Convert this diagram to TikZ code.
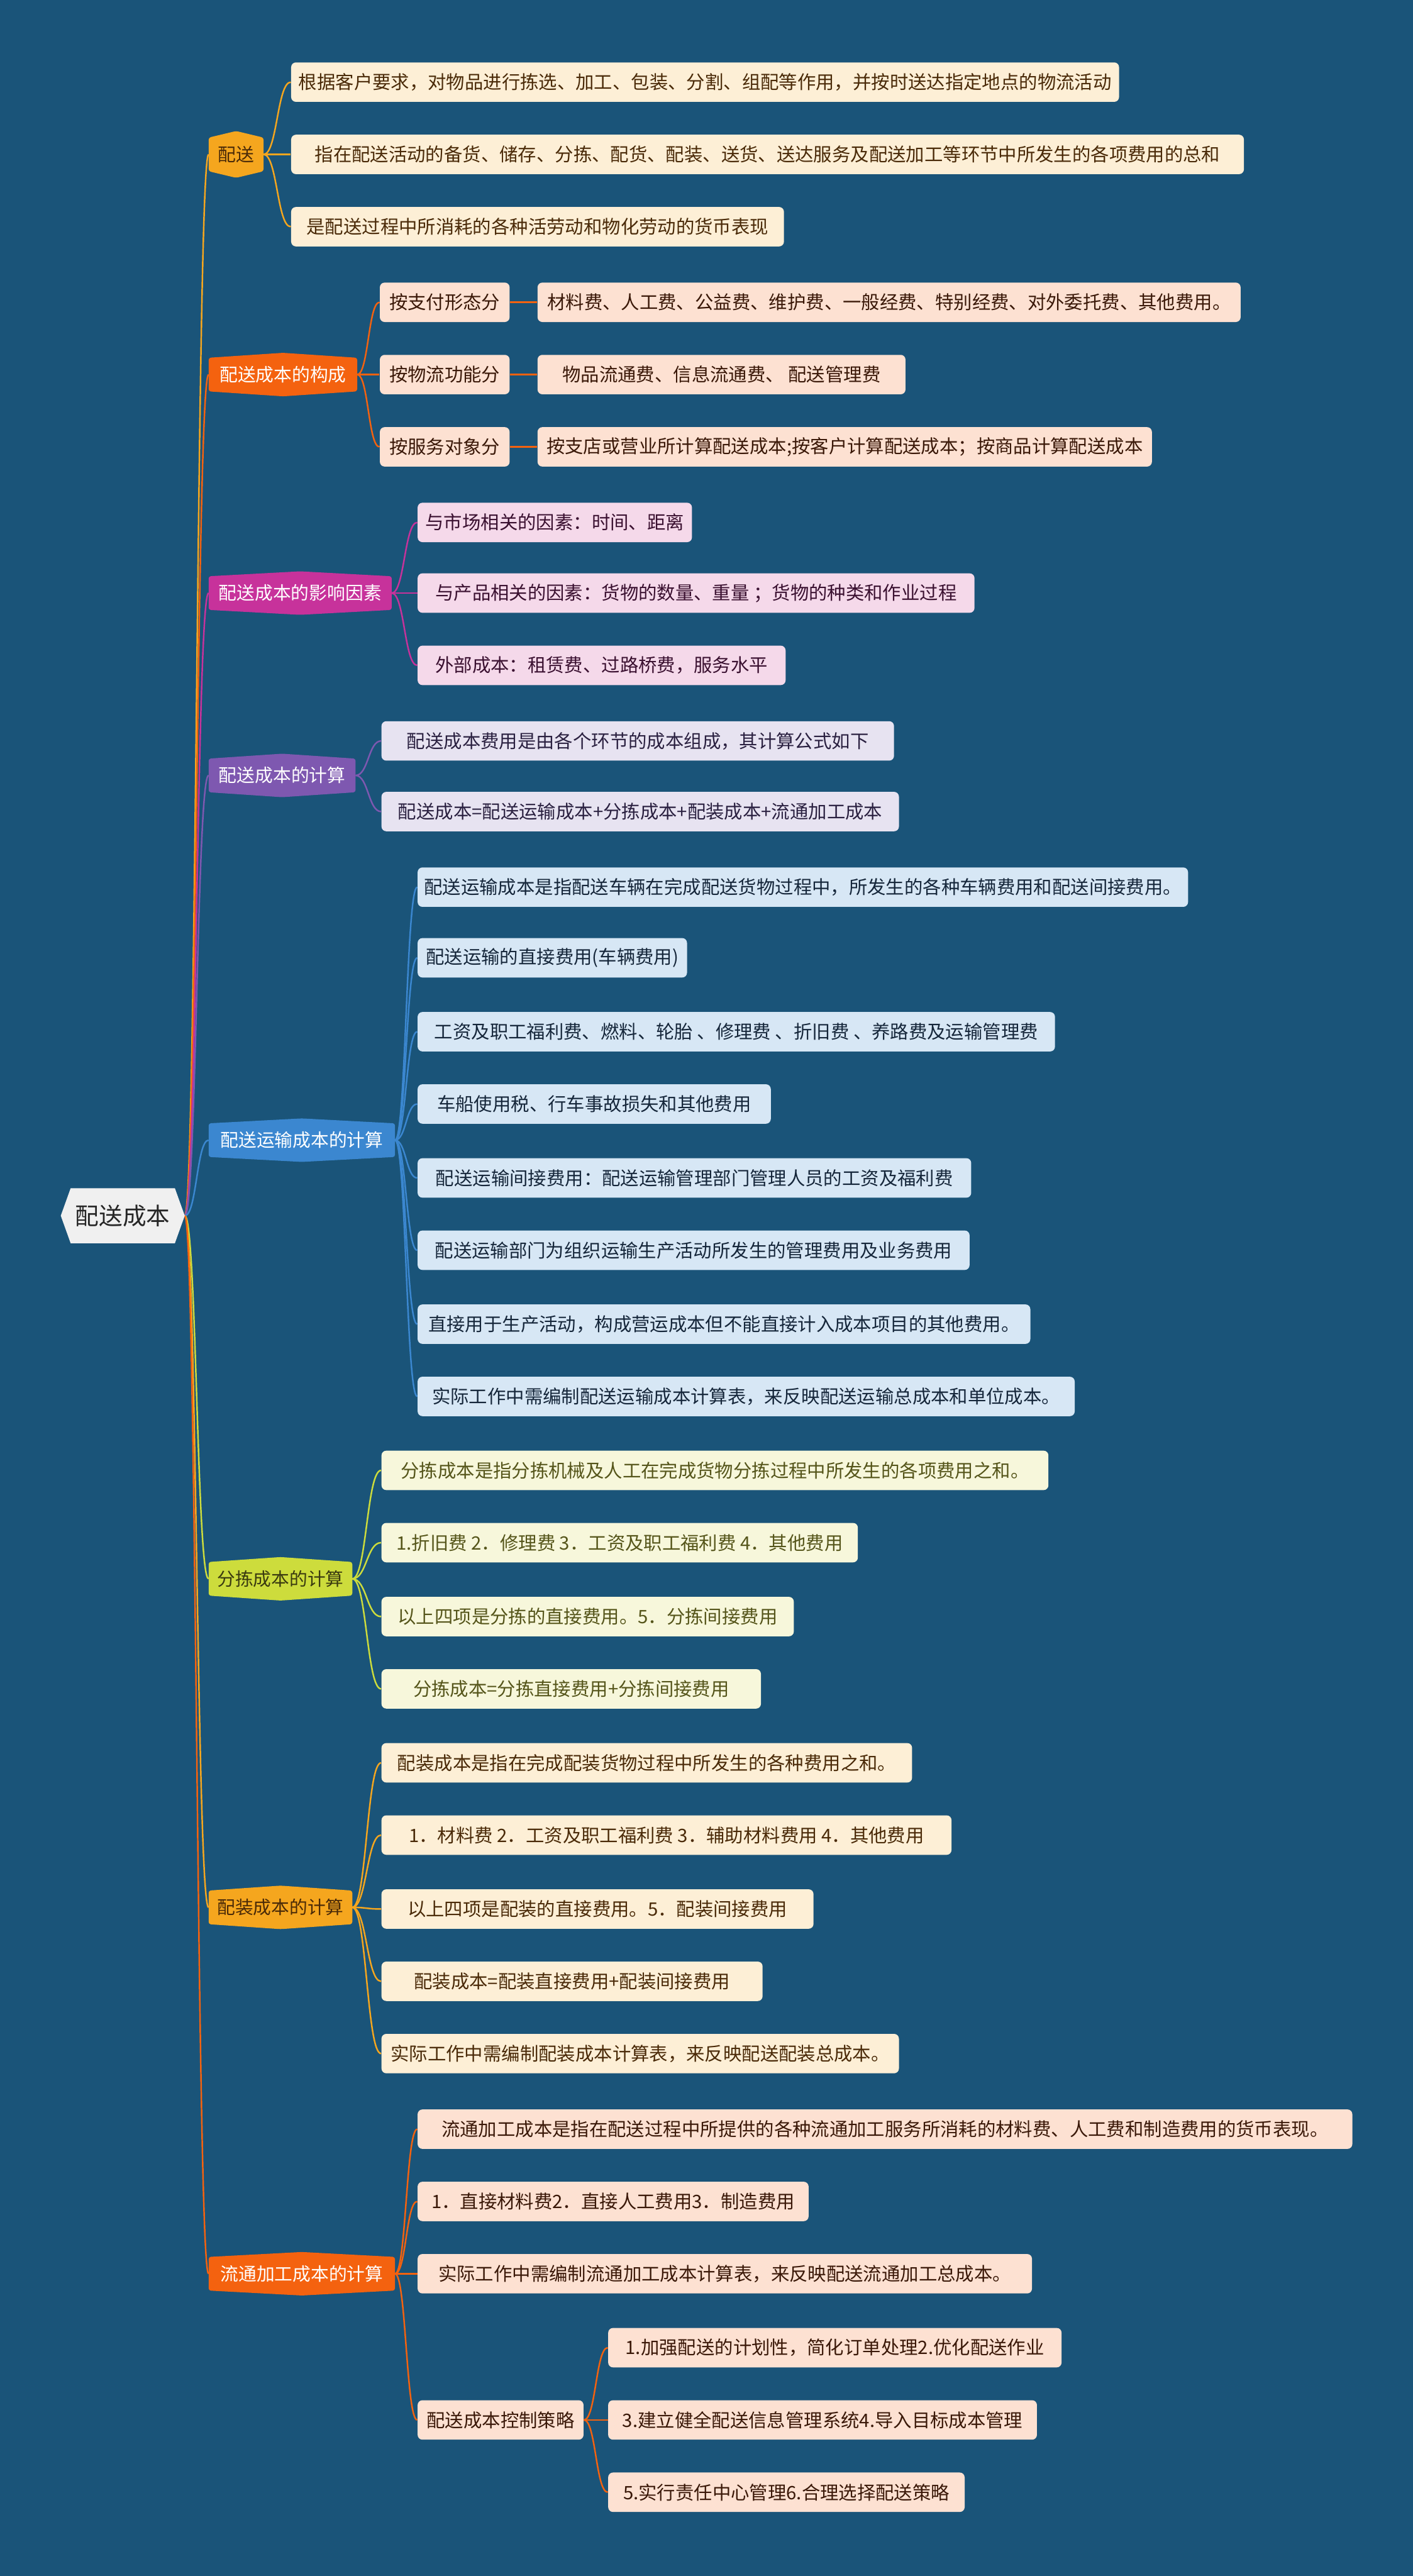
\documentclass[tikz,border=0pt]{standalone}
\usepackage{fontspec}
\setmainfont{Noto Sans CJK SC}
\usetikzlibrary{calc}
\pgfdeclarelayer{bgl}
\pgfdeclarelayer{shp}
\pgfsetlayers{bgl,shp,main}
\definecolor{bg}{HTML}{1A5479}
\definecolor{rootfill}{HTML}{F0F0F0}
\definecolor{c1}{HTML}{F5A61E}
\definecolor{c1l}{HTML}{FDEFD6}
\definecolor{c1t}{HTML}{4A2A08}
\definecolor{c2}{HTML}{F4620F}
\definecolor{c2l}{HTML}{FDE1D2}
\definecolor{c2t}{HTML}{3A1808}
\definecolor{c3}{HTML}{C7329B}
\definecolor{c3l}{HTML}{F5D9EA}
\definecolor{c3t}{HTML}{3A1030}
\definecolor{c4}{HTML}{7E58B0}
\definecolor{c4l}{HTML}{E7E3F1}
\definecolor{c4t}{HTML}{2A2040}
\definecolor{c5}{HTML}{3B87D0}
\definecolor{c5l}{HTML}{D7E7F5}
\definecolor{c5t}{HTML}{15263A}
\definecolor{c6}{HTML}{CDDC3C}
\definecolor{c6l}{HTML}{F7F7DB}
\definecolor{c6t}{HTML}{55551A}
\definecolor{c6d}{HTML}{3A3A10}
\tikzset{
  bw/.style={minimum width=#1*0.03cm},
  leaf/.style={anchor=west, rounded corners=2.5pt, minimum height=0.72cm, inner sep=0pt,
    font=\fontsize{9.6}{11}\selectfont},
  brn/.style={anchor=west, minimum height=0.6cm, inner sep=0pt,
    font=\fontsize{9.4}{11}\selectfont},
  rootn/.style={anchor=west, minimum height=0.99cm, minimum width=2.25cm, inner sep=0pt,
    font=\fontsize{12.3}{14}\selectfont, text=black!85},
  cline/.style={line width=0.8pt}
}
\newcommand\conn[3]{\draw[cline,#3] (#1.east) .. controls ($(#1.east)!0.5!(#2.west |- #1.east)$) and ($(#2.west)!0.5!(#1.east |- #2.west)$) .. (#2.west);}
\newcommand\brshape[3]{\fill[#2, rounded corners=1.2pt] (#1.north west) -- ($(#1.north)+(0,-#3)$) -- (#1.north east) -- (#1.south east) -- ($(#1.south)+(0,#3)$) -- (#1.south west) -- cycle;}
\begin{document}
\begin{tikzpicture}[x=0.03cm,y=-0.03cm]
\begin{pgfonlayer}{bgl}
\fill[bg] (0,0) rectangle (860,1568);
\end{pgfonlayer}
\useasboundingbox (0,0) rectangle (860,1568);

% root
\node[rootn] (root) at (37,740) {配送成本};

% branch 1
\node[brn, bw=33, text=c1t] (b1) at (127,94) {配送};
\node[leaf, fill=c1l, text=c1t, bw=504] (a1) at (177,50) {根据客户要求，对物品进行拣选、加工、包装、分割、组配等作用，并按时送达指定地点的物流活动};
\node[leaf, fill=c1l, text=c1t, bw=580] (a2) at (177,94) {指在配送活动的备货、储存、分拣、配货、配装、送货、送达服务及配送加工等环节中所发生的各项费用的总和};
\node[leaf, fill=c1l, text=c1t, bw=300] (a3) at (177,138) {是配送过程中所消耗的各种活劳动和物化劳动的货币表现};

% branch 2
\node[brn, bw=90, text=white] (b2) at (127,228) {配送成本的构成};
\node[leaf, fill=c2l, text=c2t, bw=79] (k1) at (231,184) {按支付形态分};
\node[leaf, fill=c2l, text=c2t, bw=428] (k1c) at (327,184) {材料费、人工费、公益费、维护费、一般经费、特别经费、对外委托费、其他费用。};
\node[leaf, fill=c2l, text=c2t, bw=79] (k2) at (231,228) {按物流功能分};
\node[leaf, fill=c2l, text=c2t, bw=224] (k2c) at (327,228) {物品流通费、信息流通费、 配送管理费};
\node[leaf, fill=c2l, text=c2t, bw=79] (k3) at (231,272) {按服务对象分};
\node[leaf, fill=c2l, text=c2t, bw=374] (k3c) at (327,272) {按支店或营业所计算配送成本;按客户计算配送成本；按商品计算配送成本};

% branch 3
\node[brn, bw=111, text=white] (b3) at (127,361) {配送成本的影响因素};
\node[leaf, fill=c3l, text=c3t, bw=167] (m1) at (254,318) {与市场相关的因素：时间、距离};
\node[leaf, fill=c3l, text=c3t, bw=339] (m2) at (254,361) {与产品相关的因素：货物的数量、重量 ；货物的种类和作业过程};
\node[leaf, fill=c3l, text=c3t, bw=224] (m3) at (254,405) {外部成本：租赁费、过路桥费，服务水平};

% branch 4
\node[brn, bw=89, text=white] (b4) at (127,472) {配送成本的计算};
\node[leaf, fill=c4l, text=c4t, bw=312] (p1) at (232,451) {配送成本费用是由各个环节的成本组成，其计算公式如下};
\node[leaf, fill=c4l, text=c4t, bw=315] (p2) at (232,494) {配送成本=配送运输成本+分拣成本+配装成本+流通加工成本};

% branch 5
\node[brn, bw=113, text=white] (b5) at (127,694) {配送运输成本的计算};
\node[leaf, fill=c5l, text=c5t, bw=469] (t1) at (254,540) {配送运输成本是指配送车辆在完成配送货物过程中，所发生的各种车辆费用和配送间接费用。};
\node[leaf, fill=c5l, text=c5t, bw=164] (t2) at (254,583) {配送运输的直接费用(车辆费用)};
\node[leaf, fill=c5l, text=c5t, bw=388] (t3) at (254,628) {工资及职工福利费、燃料、轮胎 、修理费 、折旧费 、养路费及运输管理费};
\node[leaf, fill=c5l, text=c5t, bw=215] (t4) at (254,672) {车船使用税、行车事故损失和其他费用};
\node[leaf, fill=c5l, text=c5t, bw=337] (t5) at (254,717) {配送运输间接费用：配送运输管理部门管理人员的工资及福利费};
\node[leaf, fill=c5l, text=c5t, bw=336] (t6) at (254,761) {配送运输部门为组织运输生产活动所发生的管理费用及业务费用};
\node[leaf, fill=c5l, text=c5t, bw=373] (t7) at (254,806) {直接用于生产活动，构成营运成本但不能直接计入成本项目的其他费用。};
\node[leaf, fill=c5l, text=c5t, bw=400] (t8) at (254,850) {实际工作中需编制配送运输成本计算表，来反映配送运输总成本和单位成本。};

% branch 6
\node[brn, bw=87, text=c6d] (b6) at (127,961) {分拣成本的计算};
\node[leaf, fill=c6l, text=c6t, bw=406] (s1) at (232,895) {分拣成本是指分拣机械及人工在完成货物分拣过程中所发生的各项费用之和。};
\node[leaf, fill=c6l, text=c6t, bw=290] (s2) at (232,939) {1.折旧费 2．修理费 3．工资及职工福利费 4．其他费用};
\node[leaf, fill=c6l, text=c6t, bw=251] (s3) at (232,984) {以上四项是分拣的直接费用。5．分拣间接费用};
\node[leaf, fill=c6l, text=c6t, bw=231] (s4) at (232,1028) {分拣成本=分拣直接费用+分拣间接费用};

% branch 7
\node[brn, bw=87, text=c1t] (b7) at (127,1161) {配装成本的计算};
\node[leaf, fill=c1l, text=c1t, bw=323] (z1) at (232,1073) {配装成本是指在完成配装货物过程中所发生的各种费用之和。};
\node[leaf, fill=c1l, text=c1t, bw=347] (z2) at (232,1117) {1．材料费 2．工资及职工福利费 3．辅助材料费用 4．其他费用};
\node[leaf, fill=c1l, text=c1t, bw=263] (z3) at (232,1162) {以上四项是配装的直接费用。5．配装间接费用};
\node[leaf, fill=c1l, text=c1t, bw=232] (z4) at (232,1206) {配装成本=配装直接费用+配装间接费用};
\node[leaf, fill=c1l, text=c1t, bw=315] (z5) at (232,1250) {实际工作中需编制配装成本计算表，来反映配送配装总成本。};

% branch 8
\node[brn, bw=113, text=white] (b8) at (127,1384) {流通加工成本的计算};
\node[leaf, fill=c2l, text=c2t, bw=569] (l1) at (254,1296) {流通加工成本是指在配送过程中所提供的各种流通加工服务所消耗的材料费、人工费和制造费用的货币表现。};
\node[leaf, fill=c2l, text=c2t, bw=238] (l2) at (254,1340) {1．直接材料费2．直接人工费用3．制造费用};
\node[leaf, fill=c2l, text=c2t, bw=374] (l3) at (254,1384) {实际工作中需编制流通加工成本计算表，来反映配送流通加工总成本。};
\node[leaf, fill=c2l, text=c2t, bw=101] (l4) at (254,1473) {配送成本控制策略};
\node[leaf, fill=c2l, text=c2t, bw=276] (q1) at (370,1429) {1.加强配送的计划性，简化订单处理2.优化配送作业};
\node[leaf, fill=c2l, text=c2t, bw=261] (q2) at (370,1473) {3.建立健全配送信息管理系统4.导入目标成本管理};
\node[leaf, fill=c2l, text=c2t, bw=217] (q3) at (370,1517) {5.实行责任中心管理6.合理选择配送策略};

\begin{pgfonlayer}{shp}
% connectors
\conn{root}{b1}{c1}
\conn{root}{b2}{c2}
\conn{root}{b3}{c3}
\conn{root}{b4}{c4}
\conn{root}{b5}{c5}
\conn{root}{b6}{c6}
\conn{root}{b7}{c1}
\conn{root}{b8}{c2}
\conn{b1}{a1}{c1}\conn{b1}{a2}{c1}\conn{b1}{a3}{c1}
\conn{b2}{k1}{c2}\conn{b2}{k2}{c2}\conn{b2}{k3}{c2}
\conn{k1}{k1c}{c2}\conn{k2}{k2c}{c2}\conn{k3}{k3c}{c2}
\conn{b3}{m1}{c3}\conn{b3}{m2}{c3}\conn{b3}{m3}{c3}
\conn{b4}{p1}{c4}\conn{b4}{p2}{c4}
\conn{b5}{t1}{c5}\conn{b5}{t2}{c5}\conn{b5}{t3}{c5}\conn{b5}{t4}{c5}
\conn{b5}{t5}{c5}\conn{b5}{t6}{c5}\conn{b5}{t7}{c5}\conn{b5}{t8}{c5}
\conn{b6}{s1}{c6}\conn{b6}{s2}{c6}\conn{b6}{s3}{c6}\conn{b6}{s4}{c6}
\conn{b7}{z1}{c1}\conn{b7}{z2}{c1}\conn{b7}{z3}{c1}\conn{b7}{z4}{c1}\conn{b7}{z5}{c1}
\conn{b8}{l1}{c2}\conn{b8}{l2}{c2}\conn{b8}{l3}{c2}\conn{b8}{l4}{c2}
\conn{l4}{q1}{c2}\conn{l4}{q2}{c2}\conn{l4}{q3}{c2}
% root shape
\fill[rootfill] (root.west) -- ($(root.north west)+(6,0)$) -- ($(root.north east)+(-6,0)$) -- (root.east) -- ($(root.south east)+(-6,0)$) -- ($(root.south west)+(6,0)$) -- cycle;
% branch shapes
\brshape{b1}{c1}{4}
\brshape{b2}{c2}{3}
\brshape{b3}{c3}{3}
\brshape{b4}{c4}{3}
\brshape{b5}{c5}{3}
\brshape{b6}{c6}{3}
\brshape{b7}{c1}{3}
\brshape{b8}{c2}{3}
\end{pgfonlayer}
\end{tikzpicture}
\end{document}
